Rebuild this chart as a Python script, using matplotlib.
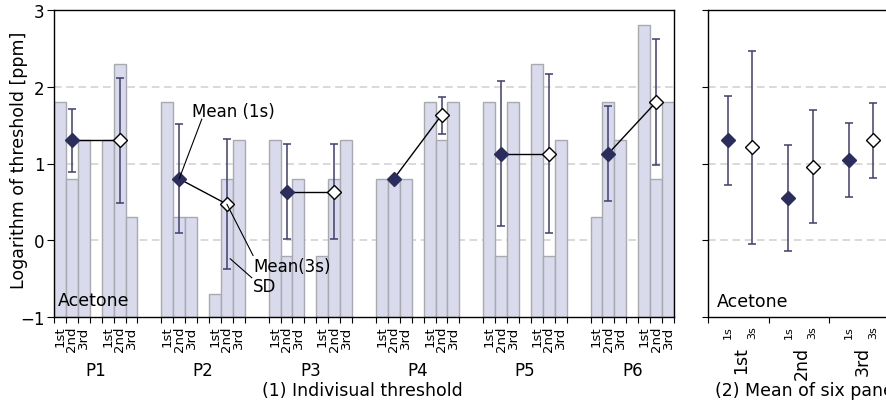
import numpy as np
import matplotlib
matplotlib.use("Agg")
import matplotlib.pyplot as plt

# values (log10 threshold, ppm)
panelists = ["P1", "P2", "P3", "P4", "P5", "P6"]
trial_labels = ["1st", "2nd", "3rd"]

# individual thresholds, session 1s and 3s, trials 1st/2nd/3rd
vals_1s = [[1.8, 0.8, 1.3], [1.8, 0.3, 0.3], [1.3, -0.2, 0.8],
           [0.8, 0.8, 0.8], [1.8, -0.2, 1.8], [0.3, 1.8, 1.3]]
vals_3s = [[1.3, 2.3, 0.3], [-0.7, 0.8, 1.3], [-0.2, 0.8, 1.3],
           [1.8, 1.3, 1.8], [2.3, -0.2, 1.3], [2.8, 0.8, 1.8]]

mean_1s = [1.30, 0.80, 0.63, 0.80, 1.13, 1.13]
sd_1s = [0.41, 0.71, 0.62, 0.00, 0.94, 0.62]
mean_3s = [1.30, 0.47, 0.63, 1.63, 1.13, 1.80]
sd_3s = [0.82, 0.85, 0.62, 0.24, 1.03, 0.82]

# mean of six panelists per trial
avg_1s = [1.30, 0.55, 1.05]
avg_1s_sd = [0.58, 0.69, 0.48]
avg_3s = [1.21, 0.96, 1.30]
avg_3s_sd = [1.26, 0.74, 0.49]

bar_face = "#d9daeb"
bar_edge = "#a9a9b0"
navy = "#2b2d5c"
err_col = "#3d3f6e"
grid_col = "#cfcfcf"

W, H = 886, 414
fig = plt.figure(figsize=(W / 100, H / 100), dpi=100)

# ---------------- (1) individual thresholds ----------------
ax1 = fig.add_axes([54 / W, 1 - 318 / H, 620 / W, 307 / H])
ax1.set_xlim(0, 52)
ax1.set_ylim(-1, 3)

for v in [0, 1, 2]:
    ax1.axhline(v, color=grid_col, lw=1.1, dashes=(5, 3), zorder=1)

edges = []
centers = []
center_labels = []
for k in range(len(panelists)):
    for g, vals in enumerate([vals_1s[k], vals_3s[k]]):
        start = 9 * k + 4 * g
        xs = start + np.arange(3) + 0.5
        ax1.bar(xs, np.array(vals) + 1, bottom=-1, width=1,
                color=bar_face, edgecolor=bar_edge, lw=1, zorder=2)
        edges += list(start + np.arange(4))
        centers += list(xs)
        center_labels += trial_labels

    x1 = 9 * k + 1.5
    x3 = 9 * k + 5.5
    ax1.plot([x1, x3], [mean_1s[k], mean_3s[k]], color="black", lw=1, zorder=4)
    ax1.errorbar(x1, mean_1s[k], yerr=sd_1s[k], fmt="none", ecolor=err_col,
                 elinewidth=1.1, capsize=2.6, capthick=1.1, zorder=3)
    ax1.errorbar(x3, mean_3s[k], yerr=sd_3s[k], fmt="none", ecolor=err_col,
                 elinewidth=1.1, capsize=2.6, capthick=1.1, zorder=3)
    ax1.plot(x1, mean_1s[k], marker="D", ms=7.5, color=navy, mec=navy, zorder=5)
    ax1.plot(x3, mean_3s[k], marker="D", ms=7.5, color="white", mec="black",
             mew=1, zorder=5)
    ax1.text(9 * k + 3.5, -0.173, panelists[k], transform=ax1.get_xaxis_transform(),
             ha="center", va="center", fontsize=12)

ax1.set_xticks(edges)
ax1.set_xticklabels([])
ax1.set_xticks(centers, minor=True)
ax1.set_xticklabels(center_labels, minor=True, rotation=90, fontsize=9.5,
                    va="top", ha="center")
ax1.tick_params(axis="x", which="major", length=4, width=0.8, direction="out")
ax1.tick_params(axis="x", which="minor", length=0, pad=6)
ax1.set_yticks([-1, 0, 1, 2, 3])
ax1.set_yticklabels(["\u22121", "0", "1", "2", "3"])
ax1.tick_params(axis="y", length=5, width=0.8, pad=2, labelsize=12)
for s in ax1.spines.values():
    s.set_color("black")
    s.set_linewidth(1)

# annotations
ax1.annotate("", xy=(10.5, mean_1s[1]), xytext=(12.4, 1.58),
             arrowprops=dict(arrowstyle="-", lw=0.8, color="black",
                             shrinkA=0, shrinkB=0), zorder=6)
ax1.text(11.6, 1.69, "Mean (1s)", ha="left", va="center", fontsize=12, zorder=6)
ax1.annotate("", xy=(14.5, mean_3s[1]), xytext=(16.7, -0.2),
             arrowprops=dict(arrowstyle="-", lw=0.8, color="black",
                             shrinkA=0, shrinkB=0), zorder=6)
ax1.text(16.7, -0.34, "Mean(3s)", ha="left", va="center", fontsize=12, zorder=6)
ax1.annotate("", xy=(14.77, -0.24), xytext=(16.6, -0.49),
             arrowprops=dict(arrowstyle="-", lw=0.8, color="black",
                             shrinkA=0, shrinkB=0), zorder=6)
ax1.text(16.7, -0.59, "SD", ha="left", va="center", fontsize=12, zorder=6)

ax1.text(0.006, 0.055, "Acetone", transform=ax1.transAxes, ha="left",
         va="center", fontsize=12.5, zorder=6)

fig.text(19 / W, 1 - 160 / H, "Logarithm of threshold [ppm]", rotation=90,
         ha="center", va="center", fontsize=12.5)
fig.text(362 / W, 1 - 391 / H, "(1) Indivisual threshold", ha="center",
         va="center", fontsize=12.5)

# ---------------- (2) mean of six panelists ----------------
ax2 = fig.add_axes([708 / W, 1 - 318 / H, 181.5 / W, 307 / H])
ax2.set_xlim(0, 3)
ax2.set_ylim(-1, 3)
for v in [0, 1, 2]:
    ax2.axhline(v, color=grid_col, lw=1.1, dashes=(5, 3), zorder=1)

pos = np.arange(len(trial_labels))
ax2.errorbar(pos + 0.33, avg_1s, yerr=avg_1s_sd, fmt="none", ecolor=err_col,
             elinewidth=1.1, capsize=2.6, capthick=1.1, zorder=3)
ax2.errorbar(pos + 0.73, avg_3s, yerr=avg_3s_sd, fmt="none", ecolor=err_col,
             elinewidth=1.1, capsize=2.6, capthick=1.1, zorder=3)
ax2.plot(pos + 0.33, avg_1s, "D", ms=7.5, color=navy, mec=navy, zorder=5)
ax2.plot(pos + 0.73, avg_3s, "D", ms=7.5, color="white", mec="black", mew=1,
         zorder=5)

ax2.set_xticks([0, 1, 2, 3])
ax2.set_xticklabels([])
ax2.set_xticks(list(pos + 0.33) + list(pos + 0.73), minor=True)
ax2.set_xticklabels(["1s"] * 3 + ["3s"] * 3, minor=True, rotation=90,
                    fontsize=8, va="top", ha="center")
ax2.tick_params(axis="x", which="major", length=4, width=0.8, direction="out")
ax2.tick_params(axis="x", which="minor", length=0, pad=6)
ax2.set_yticks([-1, 0, 1, 2, 3])
ax2.set_yticklabels([])
ax2.tick_params(axis="y", length=4, width=0.8)
for i, t in enumerate(trial_labels):
    ax2.text(i + 0.55, -0.094, t, transform=ax2.get_xaxis_transform(),
             rotation=90, ha="center", va="top", fontsize=12.5)
for s in ax2.spines.values():
    s.set_color("black")
    s.set_linewidth(1)

ax2.text(0.048, 0.053, "Acetone", transform=ax2.transAxes, ha="left",
         va="center", fontsize=12.5, zorder=6)
fig.text(715 / W, 1 - 391 / H, "(2) Mean of six panelists", ha="left",
         va="center", fontsize=12.5)

fig.savefig("out.png", dpi=100)
